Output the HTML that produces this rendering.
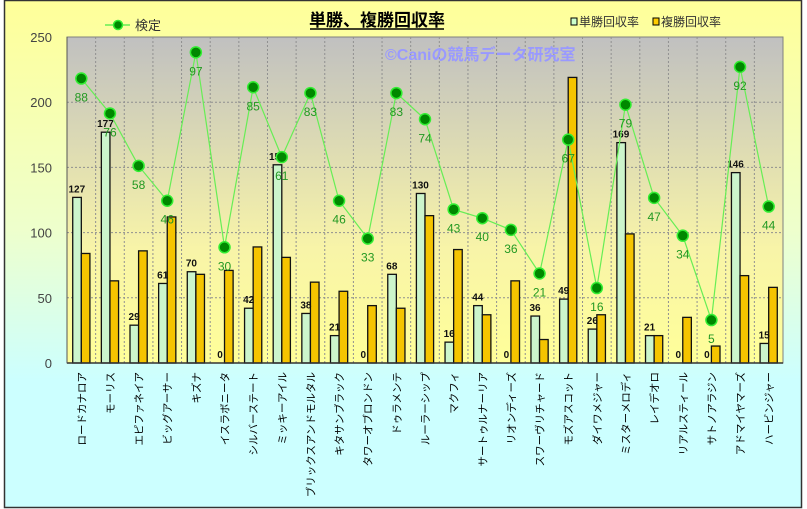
<!DOCTYPE html>
<html><head><meta charset="utf-8"><style>
html,body{margin:0;padding:0;background:#fff}
svg{display:block;font-family:"Liberation Sans","Noto Sans CJK JP",sans-serif}
</style></head><body>
<svg width="807" height="509" viewBox="0 0 807 509" xmlns="http://www.w3.org/2000/svg">
<defs>
<linearGradient id="bg" x1="0" y1="0" x2="0" y2="1">
<stop offset="0" stop-color="#ffff99"/><stop offset="0.45" stop-color="#eeffcc"/><stop offset="0.75" stop-color="#ccffff"/><stop offset="1" stop-color="#ccffff"/>
</linearGradient>
<linearGradient id="pa" x1="0" y1="0" x2="0" y2="1">
<stop offset="0" stop-color="#c0c0c0"/><stop offset="0.65" stop-color="#f8f4a8"/><stop offset="1" stop-color="#ffff99"/>
</linearGradient>
</defs>
<rect x="4.5" y="0.5" width="797" height="507" fill="url(#bg)" stroke="#333" stroke-width="1.5"/>
<rect x="67" y="37" width="716" height="326" fill="url(#pa)" stroke="#808080" stroke-width="1"/>
<g id="grid" stroke="#909090" stroke-dasharray="2,2" stroke-width="1"></g>
<g id="bars"></g>
<line x1="67" y1="363" x2="783" y2="363" stroke="#333" stroke-width="1.5"/>
<line x1="67" y1="37" x2="67" y2="363" stroke="#555" stroke-width="1"/>
<g id="line"></g>
<g id="ylab" font-size="13" fill="#444" text-anchor="end"></g>
<g id="xlab" font-size="10.5" fill="#000"></g>
<text x="385" y="60" font-size="16" fill="#9999ff" font-weight="bold">©Caniの競馬データ研究室</text>
<text x="377" y="26" font-size="17" font-weight="bold" text-anchor="middle" fill="#000">単勝、複勝回収率</text>
<line x1="310" y1="29" x2="444" y2="29" stroke="#000" stroke-width="1.5"/>
<line x1="105" y1="25" x2="130" y2="25" stroke="#66ee55" stroke-width="1.5"/>
<circle cx="118" cy="25" r="4.5" fill="#008800" stroke="#33ee33" stroke-width="1.5"/>
<text x="135" y="30" font-size="13" fill="#333">検定</text>
<rect x="571" y="18" width="6" height="7" fill="#ccffcc" stroke="#000"/>
<text x="579" y="26" font-size="12" fill="#333">単勝回収率</text>
<rect x="653" y="18" width="6" height="7" fill="#ffcc00" stroke="#000"/>
<text x="661" y="26" font-size="12" fill="#333">複勝回収率</text>
</svg>
<script>
const names=["ロードカナロア","モーリス","エピファネイア","ビッグアーサー","キズナ","イスラボニータ","シルバーステート","ミッキーアイル","ブリックスアンドモルタル","キタサンブラック","タワーオブロンドン","ドゥラメンテ","ルーラーシップ","マクフィ","サートゥルナーリア","リオンディーズ","スワーヴリチャード","モズアスコット","ダイワメジャー","ミスターメロディ","レイデオロ","リアルスティール","サトノアラジン","アドマイヤマーズ","ハービンジャー"];
const tan=[127,177,29,61,70,0,42,152,38,21,0,68,130,16,44,0,36,49,26,169,21,0,0,146,15];
const fuku=[84,63,86,112,68,71,89,81,62,55,44,42,113,87,37,63,18,219,37,99,21,35,13,67,58];
const ken=[88,76,58,46,97,30,85,61,83,46,33,83,74,43,40,36,21,67,16,79,47,34,5,92,44];
const NS="http://www.w3.org/2000/svg";
function el(t,a,p,txt){const e=document.createElementNS(NS,t);for(const k in a)e.setAttribute(k,a[k]);if(txt!==undefined)e.textContent=txt;document.getElementById(p).appendChild(e);return e;}
const L=67,W=716/25,Y0=363,S=326/250;
for(let v=50;v<250;v+=50)el("line",{x1:L,x2:783,y1:Y0-v*S,y2:Y0-v*S},"grid");
for(let i=1;i<25;i++)el("line",{x1:L+i*W,x2:L+i*W,y1:37,y2:363},"grid");
for(let v=0;v<=250;v+=50)el("text",{x:52,y:Y0-v*S+5},"ylab",String(v));
let pts=[];
for(let i=0;i<25;i++){
 const c=L+(i+0.5)*W;
 if(tan[i]>0)el("rect",{x:c-8.6,y:Y0-tan[i]*S,width:8.6,height:tan[i]*S,fill:"#ccf5cc",stroke:"#111","stroke-width":1.3},"bars");
 el("rect",{x:c,y:Y0-fuku[i]*S,width:8.6,height:fuku[i]*S,fill:"#f5c400",stroke:"#111","stroke-width":1.3},"bars");
 el("text",{x:c-4.5,y:Y0-tan[i]*S-5,"font-size":10,"font-weight":"bold","text-anchor":"middle",fill:"#111"},"bars",String(tan[i]));
 const ly=334.6-2.91*ken[i];pts.push(c+","+ly);
 el("text",{transform:`translate(${c+4},372) rotate(-90)`,"text-anchor":"end"},"xlab",names[i]);
}
el("polyline",{points:pts.join(" "),fill:"none",stroke:"#66ee55","stroke-width":1.2},"line");
for(let i=0;i<25;i++){const c=L+(i+0.5)*W,ly=334.6-2.91*ken[i];
 el("circle",{cx:c,cy:ly,r:5.5,fill:"#008800",stroke:"#33ee33","stroke-width":1.5},"line");
 el("text",{x:c,y:ly+23,"font-size":12,fill:"#229922","text-anchor":"middle"},"line",String(ken[i]));}
</script>
</body></html>
